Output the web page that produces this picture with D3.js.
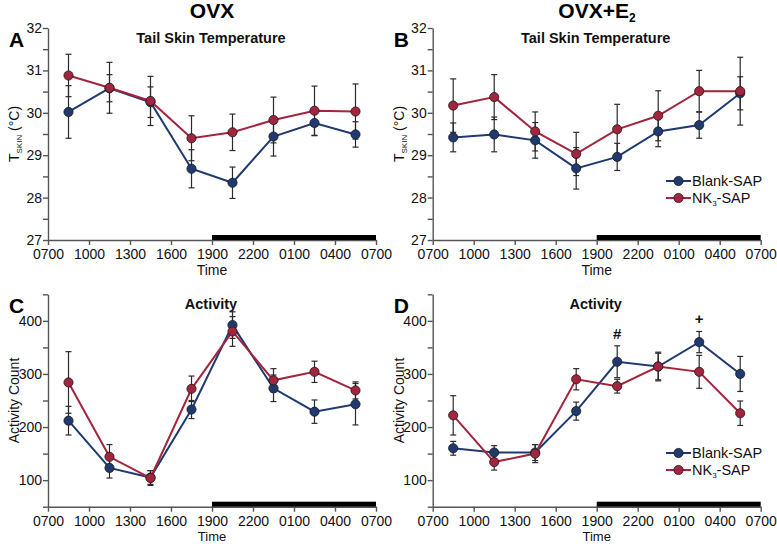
<!DOCTYPE html>
<html><head><meta charset="utf-8">
<script src="https://cdn.jsdelivr.net/npm/d3@7"></script>
<style>body{margin:0;background:#fff}svg{font-family:"Liberation Sans",Arial,sans-serif}</style>
</head><body><svg id="c" width="777" height="544"></svg>
<script>
// ---- data ----
const timeLabels = ["0700","1000","1300","1600","1900","2200","0100","0400","0700"];
const tickHours = [0,3,6,9,12,15,18,21,24];
const binHours = [1.5,4.5,7.5,10.5,13.5,16.5,19.5,22.5];
const darkStart = 12, darkEnd = 24;
const seriesNames = ["Blank-SAP","NK3-SAP"];
const tempTicks = [27,28,29,30,31,32];
const tempMinorTicks = [27.5,28.5,29.5,30.5,31.5];
const actTicks = [100,200,300,400];
const actMinorTicks = [50,150,250,350,450];

// Panel A: OVX tail skin temperature
const ovxTempBlank    = [30.02,30.58,30.25,28.68,28.35,29.44,29.76,29.49];
const ovxTempBlankErr = [0.62,0.32,0.36,0.45,0.37,0.46,0.30,0.30];
const ovxTempNK3      = [30.88,30.59,30.28,29.40,29.54,29.83,30.05,30.03];
const ovxTempNK3Err   = [0.50,0.60,0.58,0.53,0.43,0.54,0.58,0.65];
// Panel B: OVX+E2 tail skin temperature
const e2TempBlank    = [29.42,29.49,29.35,28.69,28.96,29.56,29.71,30.46];
const e2TempBlankErr = [0.34,0.41,0.42,0.49,0.32,0.36,0.31,0.39];
const e2TempNK3      = [30.17,30.37,29.56,29.03,29.61,29.93,30.51,30.51];
const e2TempNK3Err   = [0.63,0.53,0.46,0.51,0.59,0.59,0.49,0.80];
// Panel C: OVX activity
const ovxActBlank    = [212,123,105,233,392,273,229,243];
const ovxActBlankErr = [27,19,13,17,25,25,22,39];
const ovxActNK3      = [284,144,104,272,380,288,304,269];
const ovxActNK3Err   = [58,23,14,24,28,22,20,16];
// Panel D: OVX+E2 activity
const e2ActBlank    = [160,152,152,230,323,314,360,300];
const e2ActBlankErr = [13,13,15,17,30,27,20,33];
const e2ActNK3      = [222,134,150,290,277,314,304,226];
const e2ActNK3Err   = [37,15,17,20,13,25,31,23];

// ---- drawing ----
const svg = d3.select("#c");
const colors = ["#1f3a70","#a3243d"];
const axisColor = "#555";

function drawPanel(o) {
  const x = d3.scaleLinear().domain([0,24]).range([o.x0,o.x1]);
  const y = d3.scaleLinear().domain(o.ydom).range([o.yb,o.yt]);
  const g = svg.append("g");

  // y axis
  const ya = g.append("g").attr("transform",`translate(${o.x0},0)`)
    .call(d3.axisLeft(y).tickValues(o.ticks).tickSize(5).tickSizeOuter(0).tickPadding(1).tickFormat(d3.format("d")));
  const ym = g.append("g").attr("transform",`translate(${o.x0},0)`)
    .call(d3.axisLeft(y).tickValues(o.minor).tickSize(5).tickSizeOuter(0).tickFormat(""));
  ym.select(".domain").remove();
  // x axis
  const xa = g.append("g").attr("transform",`translate(0,${o.yb})`)
    .call(d3.axisBottom(x).tickValues(tickHours).tickSize(5).tickSizeOuter(0).tickPadding(4).tickFormat((d,i)=>timeLabels[i]));
  [ya,ym,xa].forEach(a=>{
    a.selectAll(".domain").attr("stroke",axisColor).attr("stroke-width",1.4);
    a.selectAll(".tick line").attr("stroke",axisColor).attr("stroke-width",1.4);
    a.selectAll("text").attr("font-size",14).attr("fill","#111").attr("font-family","Liberation Sans, Arial, sans-serif");
  });
  // dark bar
  g.append("rect").attr("x",x(darkStart)).attr("width",x(darkEnd)-x(darkStart))
    .attr("y",o.yb-5).attr("height",5).attr("fill","#000");

  // Time label
  g.append("text").attr("x",(o.x0+o.x1)/2).attr("y",o.yb+o.timeDy).attr("text-anchor","middle")
    .attr("font-size",o.timeFs).attr("fill","#111").text("Time");
  // panel title
  g.append("text").attr("x",(o.x0+o.x1)/2 - 1).attr("y",o.yt+15).attr("text-anchor","middle")
    .attr("font-size",14.5).attr("font-weight","bold").attr("fill","#111").text(o.title);
  // letter
  g.append("text").attr("x",o.x0-39).attr("y",o.yt+19).attr("font-size",21)
    .attr("font-weight","bold").attr("fill","#000").text(o.letter);
  // y label
  const yl = g.append("text").attr("transform",`translate(${o.x0-29},${(o.yt+o.yb)/2}) rotate(-90)`)
    .attr("text-anchor","middle").attr("font-size",14).attr("fill","#111");
  if (o.ylabel === "T") {
    yl.append("tspan").text("T");
    yl.append("tspan").attr("font-size",8).attr("dy",3).text("SKIN");
    yl.append("tspan").attr("dy",-3).text(" (°C)");
  } else {
    yl.text(o.ylabel);
  }

  // error bars
  o.series.forEach((s,si)=>{
    const pts = binHours.map((h,i)=>({x:x(h),v:s.v[i],e:s.e[i]}));
    const eb = g.append("g").attr("stroke","#2a2a2a").attr("stroke-width",1.2);
    pts.forEach(p=>{
      eb.append("line").attr("x1",p.x).attr("x2",p.x).attr("y1",y(p.v-p.e)).attr("y2",y(p.v+p.e));
      eb.append("line").attr("x1",p.x-3).attr("x2",p.x+3).attr("y1",y(p.v-p.e)).attr("y2",y(p.v-p.e));
      eb.append("line").attr("x1",p.x-3).attr("x2",p.x+3).attr("y1",y(p.v+p.e)).attr("y2",y(p.v+p.e));
    });
  });
  // lines + markers
  o.series.forEach((s,si)=>{
    const c = colors[si];
    const pts = binHours.map((h,i)=>[x(h),y(s.v[i])]);
    g.append("path").attr("d",d3.line()(pts)).attr("fill","none").attr("stroke",c).attr("stroke-width",2);
    g.selectAll(null).data(pts).enter().append("circle")
      .attr("cx",d=>d[0]).attr("cy",d=>d[1]).attr("r",4.6)
      .attr("fill",c).attr("stroke","#1a1a1a").attr("stroke-width",0.8);
  });

  // legend
  if (o.legend) {
    seriesNames.forEach((n,i)=>{
      const ly = o.legend[1] + i*17;
      const lx = o.legend[0];
      g.append("line").attr("x1",lx).attr("x2",lx+25).attr("y1",ly).attr("y2",ly)
        .attr("stroke",colors[i]).attr("stroke-width",2);
      g.append("circle").attr("cx",lx+12.5).attr("cy",ly).attr("r",4.6)
        .attr("fill",colors[i]).attr("stroke","#1a1a1a").attr("stroke-width",0.8);
      const t = g.append("text").attr("x",lx+26).attr("y",ly+5).attr("font-size",14.5).attr("fill","#111");
      if (n === "NK3-SAP") {
        t.append("tspan").text("NK");
        t.append("tspan").attr("font-size",8).attr("dy",3).text("3");
        t.append("tspan").attr("dy",-3).text("-SAP");
      } else t.text(n);
    });
  }
  // annotations
  (o.notes||[]).forEach(nt=>{
    g.append("text").attr("x",x(nt.h)).attr("y",y(nt.v)).attr("text-anchor","middle")
      .attr("font-size",15).attr("font-weight","bold").attr("fill","#111").text(nt.t);
  });
}

// group headers
svg.append("text").attr("x",212).attr("y",18).attr("text-anchor","middle").attr("font-size",21)
  .attr("font-weight","bold").attr("fill","#000").text("OVX");
const h2 = svg.append("text").attr("x",597).attr("y",18).attr("text-anchor","middle").attr("font-size",21)
  .attr("font-weight","bold").attr("fill","#000");
h2.append("tspan").text("OVX+E");
h2.append("tspan").attr("font-size",12).attr("dy",4).text("2");

drawPanel({letter:"A",title:"Tail Skin Temperature",x0:48,x1:376,yt:28,yb:240,ydom:[27,32],timeDy:35,timeFs:14,
  ticks:tempTicks,minor:tempMinorTicks,ylabel:"T",
  series:[{v:ovxTempBlank,e:ovxTempBlankErr},{v:ovxTempNK3,e:ovxTempNK3Err}]});
drawPanel({letter:"B",title:"Tail Skin Temperature",x0:432.7,x1:760.7,yt:28,yb:240,ydom:[27,32],timeDy:35,timeFs:14,
  ticks:tempTicks,minor:tempMinorTicks,ylabel:"T",legend:[666,181],
  series:[{v:e2TempBlank,e:e2TempBlankErr},{v:e2TempNK3,e:e2TempNK3Err}]});
drawPanel({letter:"C",title:"Activity",x0:48,x1:376,yt:294.3,yb:506.7,ydom:[50,450],timeDy:34,timeFs:13,
  ticks:actTicks,minor:actMinorTicks,ylabel:"Activity Count",
  series:[{v:ovxActBlank,e:ovxActBlankErr},{v:ovxActNK3,e:ovxActNK3Err}]});
drawPanel({letter:"D",title:"Activity",x0:432.7,x1:760.7,yt:294.3,yb:506.7,ydom:[50,450],timeDy:34,timeFs:13,
  ticks:actTicks,minor:actMinorTicks,ylabel:"Activity Count",legend:[666,453],
  series:[{v:e2ActBlank,e:e2ActBlankErr},{v:e2ActNK3,e:e2ActNK3Err}],
  notes:[{h:13.5,v:365,t:"#"},{h:19.5,v:394,t:"+"}]});
</script></body></html>
